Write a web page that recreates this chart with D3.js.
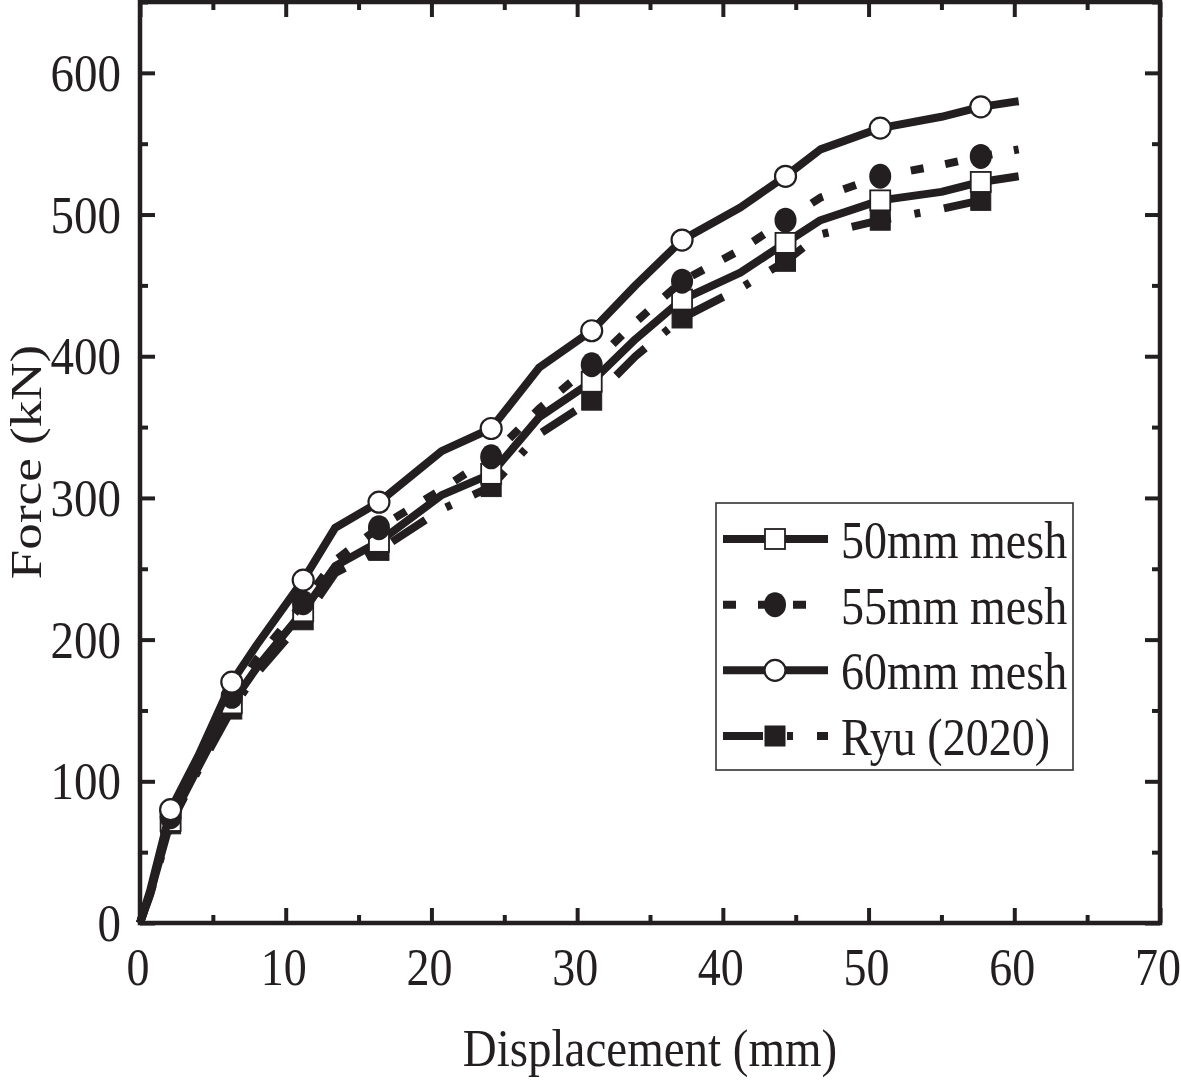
<!DOCTYPE html>
<html>
<head>
<meta charset="utf-8">
<script src="https://cdn.jsdelivr.net/npm/d3@7/dist/d3.min.js"></script>
<style>
  html, body { margin: 0; padding: 0; background: #fff; }
  svg text { font-family: "Liberation Serif", "Times New Roman", serif; fill: #231f20; }
</style>
</head>
<body>
<svg id="chart" width="1181" height="1082"></svg>
<script>
// ---------------- data ----------------
const xMesh = [0, 0.7, 2.1, 4, 6.3, 8, 11.2, 13.4, 16.4, 20.7, 24.1, 27.4, 31.0, 34, 37.2, 41.2, 44.3, 46.7, 50.8, 55, 57.7, 60.3];
const force60 = [0, 23, 80, 118, 170, 196, 242, 279, 297, 333, 349, 392, 418, 450, 482, 505, 527, 546, 561, 569, 576, 580];
const force55 = [0, 21, 75, 113, 160, 186, 226, 256, 279, 306, 329, 363, 394, 424, 453, 475, 496, 512, 527, 535, 541, 546];
const force50 = [0, 21, 72, 110, 155, 180, 220, 252, 269, 302, 317, 357, 382, 412, 440, 459, 480, 496, 510, 516, 523, 527];
const xRyu = [0, 0.7, 2.1, 4, 6.3, 8, 11.2, 13.4, 16.4, 20.7, 24.1, 27.4, 31.0, 34, 37.2, 41.2, 44.3, 46.7, 50.8, 55, 57.7, 58.6];
const forceRyu = [0, 20, 70, 108, 151, 176, 214, 247, 263, 292, 308, 345, 369, 400, 427, 448, 467, 486, 496, 504, 510, 512];
const markerIdx = [2, 4, 6, 8, 10, 12, 14, 16, 18, 20];

const seriesNames = ["50mm mesh", "55mm mesh", "60mm mesh", "Ryu (2020)"];
const xTicks = [0, 10, 20, 30, 40, 50, 60, 70];
const xMinor = [5, 15, 25, 35, 45, 55, 65];
const yTicks = [0, 100, 200, 300, 400, 500, 600];
const yMinor = [50, 150, 250, 350, 450, 550, 650];
const xTitle = "Displacement (mm)";
const yTitle = "Force (kN)";

// ---------------- layout ----------------
const INK = "#231f20";
const L = 140, R = 1160, T = 2, B = 923;
const svg = d3.select("#chart");
const x = d3.scaleLinear().domain([0, 70]).range([L, R]);
const y = d3.scaleLinear().domain([0, 650]).range([B, T]);
const VS = 1.13; // vertical stretch of lettering in the reference
const FS = 46;

const series = [
  { name: seriesNames[3], xs: xRyu, ys: forceRyu, dash: "40,24,6,24", marker: "square", fill: INK },
  { name: seriesNames[0], xs: xMesh, ys: force50, dash: null, marker: "square", fill: "#fff" },
  { name: seriesNames[1], xs: xMesh, ys: force55, dash: "13,22", marker: "circle", fill: INK },
  { name: seriesNames[2], xs: xMesh, ys: force60, dash: null, marker: "circle", fill: "#fff" }
];

const line = d3.line().x(d => x(d[0])).y(d => y(d[1]));

function drawMarker(g, type, fill, cx, cy) {
  if (type === "square") {
    g.append("rect").attr("x", cx - 10).attr("y", cy - 10).attr("width", 20).attr("height", 20)
      .attr("fill", fill).attr("stroke", INK).attr("stroke-width", fill === "#fff" ? 1.8 : 1);
  } else {
    if (fill === "#fff") {
      g.append("circle").attr("cx", cx).attr("cy", cy).attr("r", 10.5)
        .attr("fill", "#fff").attr("stroke", INK).attr("stroke-width", 2.2);
    } else {
      g.append("ellipse").attr("cx", cx).attr("cy", cy).attr("rx", 11).attr("ry", 12.5)
        .attr("fill", INK);
    }
  }
}

const plot = svg.append("g");
series.forEach(s => {
  const pts = s.xs.map((v, i) => [v, s.ys[i]]);
  plot.append("path").attr("d", line(pts)).attr("fill", "none").attr("stroke", INK)
    .attr("stroke-width", 8).attr("stroke-linejoin", "round")
    .attr("stroke-dasharray", s.dash);
  const g = plot.append("g");
  markerIdx.forEach(i => drawMarker(g, s.marker, s.fill, x(s.xs[i]), y(s.ys[i])));
});

// ---------------- axes ----------------
function styleAxis(g) {
  g.select(".domain").remove();
  g.selectAll("line").attr("stroke", INK).attr("stroke-width", 4);
  g.selectAll("text").remove();
}
svg.append("g").attr("transform", `translate(0,${B})`).call(d3.axisBottom(x).tickValues(xTicks).tickSize(-15)).call(styleAxis);
svg.append("g").attr("transform", `translate(0,${B})`).call(d3.axisBottom(x).tickValues(xMinor).tickSize(-8)).call(styleAxis);
svg.append("g").attr("transform", `translate(0,${T})`).call(d3.axisTop(x).tickValues(xTicks).tickSize(-15)).call(styleAxis);
svg.append("g").attr("transform", `translate(0,${T})`).call(d3.axisTop(x).tickValues(xMinor).tickSize(-8)).call(styleAxis);
svg.append("g").attr("transform", `translate(${L},0)`).call(d3.axisLeft(y).tickValues(yTicks).tickSize(-15)).call(styleAxis);
svg.append("g").attr("transform", `translate(${L},0)`).call(d3.axisLeft(y).tickValues(yMinor).tickSize(-8)).call(styleAxis);
svg.append("g").attr("transform", `translate(${R},0)`).call(d3.axisRight(y).tickValues(yTicks).tickSize(-15)).call(styleAxis);
svg.append("g").attr("transform", `translate(${R},0)`).call(d3.axisRight(y).tickValues(yMinor).tickSize(-8)).call(styleAxis);

// frame
svg.append("rect").attr("x", L).attr("y", T).attr("width", R - L).attr("height", B - T)
  .attr("fill", "none").attr("stroke", INK).attr("stroke-width", 4.5);

// tick labels
svg.append("g").selectAll("text").data(xTicks).join("text")
  .attr("transform", d => `translate(${x(d) - 2},985) scale(1,${VS})`)
  .attr("text-anchor", "middle").attr("font-size", FS).text(d => d);
svg.append("g").selectAll("text").data(yTicks).join("text")
  .attr("transform", d => `translate(121,${y(d) + 18}) scale(1,${VS})`)
  .attr("text-anchor", "end").attr("font-size", FS + 1).text(d => d);

// axis titles
svg.append("text").attr("transform", `translate(${(L + R) / 2},1066) scale(1,${VS})`)
  .attr("text-anchor", "middle").attr("font-size", FS + 1).text(xTitle);
svg.append("text").attr("transform", `translate(41,462) scale(1,${VS + 0.05}) rotate(-90)`)
  .attr("text-anchor", "middle").attr("font-size", FS - 1).text(yTitle);

// ---------------- legend ----------------
const leg = svg.append("g");
leg.append("rect").attr("x", 716).attr("y", 503).attr("width", 357).attr("height", 267)
  .attr("fill", "#fff").attr("stroke", "#333").attr("stroke-width", 1.6);
const legOrder = [series[1], series[2], series[3], series[0]];
const legY = d3.scalePoint().domain(legOrder.map(s => s.name)).range([539, 736]);
legOrder.forEach(s => {
  const cy = legY(s.name);
  leg.append("line").attr("x1", 723).attr("x2", 828).attr("y1", cy).attr("y2", cy)
    .attr("stroke", INK).attr("stroke-width", 8).attr("stroke-dasharray", s.dash);
  drawMarker(leg, s.marker, s.fill, 775, cy);
  leg.append("text").attr("transform", `translate(841,${cy + 19}) scale(1,${VS})`)
    .attr("font-size", FS).text(s.name);
});
</script>
</body>
</html>
